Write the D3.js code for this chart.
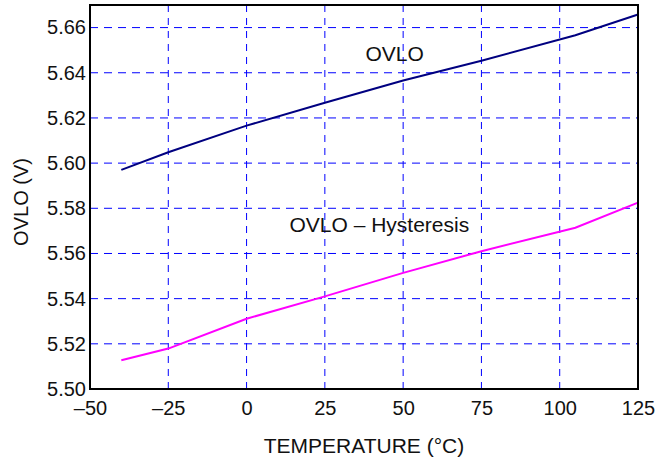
<!DOCTYPE html>
<html>
<head>
<meta charset="utf-8">
<script src="https://cdn.jsdelivr.net/npm/d3@7"></script>
<style>
  body { margin: 0; background: white; }
  text { font-family: "Liberation Sans", Arial, sans-serif; fill: #111; }
</style>
</head>
<body>
<div id="chart"></div>
<script>
let width = 671, height = 463;

let margin = { top: 5, bottom: 74, left: 90, right: 33 };

// temperatures (°C)
let temps = [-40, -25, 0, 25, 50, 75, 105, 125];
let ovlo = [5.597, 5.6048, 5.6166, 5.6267, 5.6366, 5.6453, 5.6566, 5.6658];
let ovloHyst = [5.5127, 5.5179, 5.5311, 5.541, 5.5514, 5.561, 5.5714, 5.5825];

let xTicks = [-50, -25, 0, 25, 50, 75, 100, 125];
let xTickLabels = ['–50', '–25', '0', '25', '50', '75', '100', '125'];
let yTicks = [5.50, 5.52, 5.54, 5.56, 5.58, 5.60, 5.62, 5.64, 5.66];

let svg = d3.select('#chart')
  .append('svg')
  .attr('width', width)
  .attr('height', height)
  .style('background', 'white');

let xscale = d3.scaleLinear()
  .domain([-50, 125])
  .range([margin.left, width - margin.right]);

let yscale = d3.scaleLinear()
  .domain([5.50, 5.67])
  .range([height - margin.bottom, margin.top]);

// dashed grid
svg.append('g')
  .selectAll('line')
  .data(xTicks.slice(1, -1))
  .enter()
  .append('line')
  .attr('x1', d => xscale(d))
  .attr('x2', d => xscale(d))
  .attr('y1', yscale.range()[0])
  .attr('y2', yscale.range()[1])
  .attr('stroke', '#0000ff')
  .attr('stroke-width', 1)
  .attr('stroke-dasharray', '7,6');

svg.append('g')
  .selectAll('line')
  .data(yTicks.slice(1))
  .enter()
  .append('line')
  .attr('x1', xscale.range()[0])
  .attr('x2', xscale.range()[1])
  .attr('y1', d => yscale(d))
  .attr('y2', d => yscale(d))
  .attr('stroke', '#0000ff')
  .attr('stroke-width', 1)
  .attr('stroke-dasharray', '8,6');

// axes (labels only, frame drawn separately)
let yAxis = svg.append('g')
  .attr('transform', `translate(${margin.left}, 0)`)
  .call(d3.axisLeft(yscale).tickValues(yTicks).tickSize(0).tickPadding(4).tickFormat(d3.format('.2f')));

let xAxis = svg.append('g')
  .attr('transform', `translate(0, ${height - margin.bottom})`)
  .call(d3.axisBottom(xscale).tickValues(xTicks).tickSize(0).tickPadding(12)
    .tickFormat((d, i) => xTickLabels[i]));

[yAxis, xAxis].forEach(g => {
  g.select('.domain').remove();
  g.selectAll('text')
    .style('font-family', '"Liberation Sans", Arial, sans-serif')
    .style('font-size', '20px')
    .attr('fill', '#111');
});

// series lines
let line = d3.line()
  .x((d, i) => xscale(temps[i]))
  .y(d => yscale(d));

svg.append('path')
  .datum(ovlo)
  .attr('d', line)
  .attr('fill', 'none')
  .attr('stroke', '#000080')
  .attr('stroke-width', 2);

svg.append('path')
  .datum(ovloHyst)
  .attr('d', line)
  .attr('fill', 'none')
  .attr('stroke', '#ff00ff')
  .attr('stroke-width', 2);

// frame
svg.append('rect')
  .attr('x', xscale.range()[0])
  .attr('y', yscale.range()[1])
  .attr('width', xscale.range()[1] - xscale.range()[0])
  .attr('height', yscale.range()[0] - yscale.range()[1])
  .attr('fill', 'none')
  .attr('stroke', 'black')
  .attr('stroke-width', 2);

// series labels
svg.append('text')
  .text('OVLO')
  .attr('x', xscale(47.3))
  .attr('y', yscale(5.6453))
  .attr('text-anchor', 'middle')
  .style('font-size', '21px');

svg.append('text')
  .text('OVLO – Hysteresis')
  .attr('x', xscale(13.7))
  .attr('y', yscale(5.5696))
  .style('font-size', '21px');

// axis titles
svg.append('text')
  .text('TEMPERATURE (°C)')
  .attr('x', (xscale.range()[0] + xscale.range()[1]) / 2)
  .attr('y', 453)
  .attr('text-anchor', 'middle')
  .style('font-size', '21px');

svg.append('text')
  .text('OVLO (V)')
  .attr('x', -202)
  .attr('y', 28)
  .attr('transform', 'rotate(-90)')
  .attr('text-anchor', 'middle')
  .style('font-size', '20px');
</script>
</body>
</html>
